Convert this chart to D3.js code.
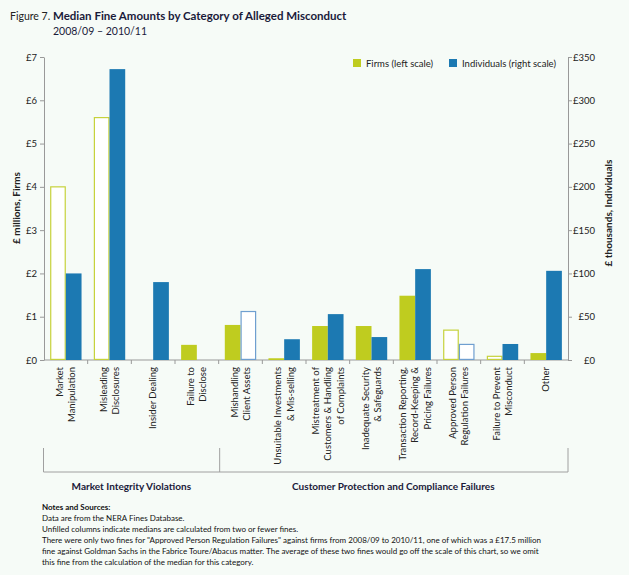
<!DOCTYPE html>
<html>
<head>
<meta charset="utf-8">
<script src="https://cdn.jsdelivr.net/npm/d3@7"></script>
<style>
 body{margin:0;background:#f6fbf7;}
 svg{display:block;font-family:Lato,"Open Sans",sans-serif;}
 .axis path,.axis line{stroke:#999;}
 .axis text{fill:#222;font-size:9.5px;font-family:Lato,"Open Sans",sans-serif;}
</style>
</head>
<body>
<div id="chart"></div>
<script>
// Chart data
var categories = ["Market Manipulation","Misleading Disclosures","Insider Dealing","Failure to Disclose",
 "Mishandling Client Assets","Unsuitable Investments & Mis-selling","Mistreatment of Customers & Handling of Complaints",
 "Inadequate Security & Safeguards","Transaction Reporting, Record-Keeping & Pricing Failures",
 "Approved Person Regulation Failures","Failure to Prevent Misconduct","Other"];
var categoryLines = [["Market","Manipulation"],["Misleading","Disclosures"],["Insider Dealing"],["Failure to","Disclose"],
 ["Mishandling","Client Assets"],["Unsuitable Investments","& Mis-selling"],["Mistreatment of","Customers & Handling","of Complaints"],
 ["Inadequate Security","& Safeguards"],["Transaction Reporting,","Record-Keeping &","Pricing Failures"],
 ["Approved Person","Regulation Failures"],["Failure to Prevent","Misconduct"],["Other"]];
var firms       = [4.0, 5.6, null, 0.35, 0.81, 0.04, 0.785, 0.785, 1.485, 0.69, 0.085, 0.16];   // £ millions
var firmsFilled = [false,false,true,true,true,true,true,true,true,false,false,true];
var individuals = [100, 336, 90, null, 56, 24, 53, 26.5, 105, 18, 18.5, 103];                  // £ thousands
var indivFilled = [true,true,true,true,false,true,true,true,true,false,true,true];
var leftTicks  = [0,1,2,3,4,5,6,7];
var rightTicks = [0,50,100,150,200,250,300,350];
var groups = [{name:"Market Integrity Violations", from:0, to:3},
              {name:"Customer Protection and Compliance Failures", from:4, to:11}];
var notes = ["Data are from the NERA Fines Database.",
 "Unfilled columns indicate medians are calculated from two or fewer fines.",
 "There were only two fines for \"Approved Person Regulation Failures\" against firms from 2008/09 to 2010/11, one of which was a \u00a317.5 million",
 "fine against Goldman Sachs in the Fabrice Toure/Abacus matter. The average of these two fines would go off the scale of this chart, so we omit",
 "this fine from the calculation of the median for this category."];

var green = "#bfcc1f", greenLine = "#c6d23c", blue = "#1c79b2", blueLine = "#6f9fd0";

function drawChart(){
 var W = 629, H = 575;
 var pLeft = 44, pRight = 568, pTop = 57, pBottom = 360;

 var svg = d3.select("#chart").append("svg").attr("width", W).attr("height", H);

 var x = d3.scaleBand().domain(categories).range([pLeft, pRight]);
 var sub = d3.scaleBand().domain(["f","i"]).range([0, x.bandwidth()]).paddingOuter(0.39);
 var yL = d3.scaleLinear().domain([0,7]).range([pBottom, pTop]);
 var yR = d3.scaleLinear().domain([0,350]).range([pBottom, pTop]);

 // Title
 svg.append("text").attr("x",10).attr("y",20).style("font-size","10.5px").attr("fill","#222").text("Figure 7.");
 svg.append("text").attr("x",53).attr("y",20).style("font-size","11.5px").style("font-weight","bold").attr("fill","#1a1a3a")
  .text("Median Fine Amounts by Category of Alleged Misconduct");
 svg.append("text").attr("x",53).attr("y",35).style("font-size","10.5px").attr("fill","#1a1a3a").text("2008/09 \u2013 2010/11");

 // Axes
 svg.append("g").attr("class","axis").attr("transform","translate("+pLeft+",0)")
  .call(d3.axisLeft(yL).tickValues(leftTicks).tickSize(4).tickSizeOuter(0).tickFormat(function(d){return "\u00a3"+d;}));
 var ra = svg.append("g").attr("class","axis").attr("transform","translate("+pRight+",0)")
  .call(d3.axisRight(yR).tickValues(rightTicks).tickSize(4).tickSizeOuter(0).tickFormat(function(d){return "\u00a3"+d;}));
 ra.selectAll("text").attr("text-anchor","end").attr("x",27);

 // bottom axis, ticks at band boundaries
 var bx = svg.append("g").attr("class","axis");
 bx.append("line").attr("x1",pLeft).attr("x2",pRight).attr("y1",pBottom).attr("y2",pBottom);
 categories.forEach(function(c,i){
  if(i>0) bx.append("line").attr("x1",x(c)).attr("x2",x(c)).attr("y1",pBottom).attr("y2",pBottom+4);
 });

 // Axis titles
 svg.append("text").attr("transform","translate(20,208)rotate(-90)").attr("text-anchor","middle")
  .style("font-size","10px").style("font-weight","bold").attr("fill","#222").text("\u00a3 millions, Firms");
 svg.append("text").attr("transform","translate(612,213)rotate(-90)").attr("text-anchor","middle")
  .style("font-size","10px").style("font-weight","bold").attr("fill","#222").text("\u00a3 thousands, Individuals");

 // Bars
 categories.forEach(function(c,i){
  if(firms[i] !== null){
   var fr = svg.append("rect").attr("x", x(c)+sub("f")).attr("width", sub.bandwidth())
    .attr("y", yL(firms[i])).attr("height", pBottom - yL(firms[i]));
   if(firmsFilled[i]) fr.attr("fill", green);
   else fr.attr("fill","#fff").attr("stroke", greenLine).attr("stroke-width",1.2)
    .attr("x", x(c)+sub("f")+0.6).attr("width", sub.bandwidth()-1.2).attr("height", pBottom - yL(firms[i]) - 0.6);
  }
  if(individuals[i] !== null){
   var ir = svg.append("rect").attr("x", x(c)+sub("i")).attr("width", sub.bandwidth())
    .attr("y", yR(individuals[i])).attr("height", pBottom - yR(individuals[i]));
   if(indivFilled[i]) ir.attr("fill", blue);
   else ir.attr("fill","#fff").attr("stroke", blueLine).attr("stroke-width",1.2)
    .attr("x", x(c)+sub("i")+0.6).attr("width", sub.bandwidth()-1.2).attr("height", pBottom - yR(individuals[i]) - 0.6);
  }
 });

 // Category labels
 categories.forEach(function(c,i){
  var cx = x(c) + x.bandwidth()/2;
  var lines = categoryLines[i];
  var t = svg.append("text").attr("transform","translate("+cx+",367)rotate(-90)")
   .attr("text-anchor","end").style("font-size","9.5px").attr("fill","#222");
  lines.forEach(function(l,j){
   t.append("tspan").attr("x",0).attr("y", (j - (lines.length-1)/2)*12.5).attr("dy","0.35em").text(l);
  });
 });

 // Group brackets
 var br = svg.append("g").attr("stroke","#a0a0a0").attr("fill","none");
 br.append("line").attr("x1",pLeft-0.5).attr("x2",pRight).attr("y1",472).attr("y2",472);
 groups.forEach(function(g,i){
  var gx = i === 0 ? pLeft - 0.5 : x(categories[g.from]) + 1;
  br.append("line").attr("x1",gx).attr("x2",gx).attr("y1",448).attr("y2",472);
  svg.append("text").attr("x", (x(categories[g.from]) + x(categories[g.to]) + x.bandwidth())/2).attr("y",490)
   .attr("text-anchor","middle").style("font-size","10px").style("font-weight","bold").attr("fill","#1a1a3a").text(g.name);
 });
 br.append("line").attr("x1",pRight).attr("x2",pRight).attr("y1",448).attr("y2",472);

 // Legend
 var legend = [{label:"Firms (left scale)", color:green, x:353},{label:"Individuals (right scale)", color:blue, x:449}];
 legend.forEach(function(d){
  svg.append("rect").attr("x",d.x).attr("y",59).attr("width",8).attr("height",8).attr("fill",d.color);
  svg.append("text").attr("x",d.x+13).attr("y",66.5).style("font-size","9.5px").attr("fill","#222").text(d.label);
 });

 // Notes
 svg.append("text").attr("x",42).attr("y",510).style("font-size","8px").style("font-weight","bold").attr("fill","#111").text("Notes and Sources:");
 notes.forEach(function(n,i){
  svg.append("text").attr("x",42).attr("y",521 + i*11).style("font-size","8px").attr("fill","#111").text(n);
 });
}
drawChart();
</script>
</body>
</html>
